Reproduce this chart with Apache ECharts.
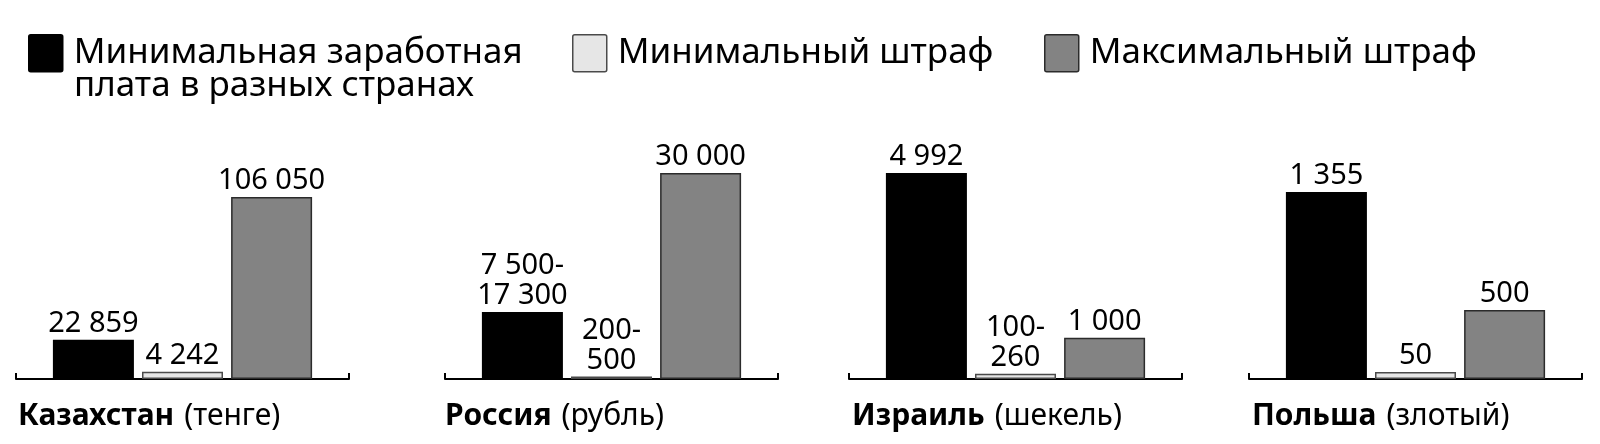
<!DOCTYPE html>
<html>
<head>
<meta charset="utf-8">
<script src="https://cdn.jsdelivr.net/npm/echarts@6/dist/echarts.min.js"></script>
<style>
  html, body { margin: 0; padding: 0; background: #fff; }
  #chart { width: 1600px; height: 444px; }
</style>
</head>
<body>
<div id="chart"></div>
<script>
// данные
var countries = ['Казахстан', 'Россия', 'Израиль', 'Польша'];
var currencies = ['(тенге)', '(рубль)', '(шекель)', '(злотый)'];

var minWage = [22859, 9750, 4992, 1355];
var minFine = [4242, 350, 130, 50];
var maxFine = [106050, 30000, 1000, 500];

var minWageLabels = ['22 859', '7 500-\n17 300', '4 992', '1 355'];
var minFineLabels = ['4 242', '200-\n500', '100-\n260', '50'];
var maxFineLabels = ['106 050', '30 000', '1 000', '500'];

var legendLines = ['Минимальная заработная', 'плата в разных странах'];
var seriesNames = [legendLines.join(' '), 'Минимальный штраф', 'Максимальный штраф'];

// у каждой страны своя шкала
var axisMax = [133400, 33350, 5550, 1660];

// раскладка
var panelLeft = [16, 445, 849, 1249];
var titleLeft = [18, 445, 852, 1252];
var FONT = '"Noto Sans", sans-serif';

var barStyles = [
  { color: '#000000', borderColor: '#000000', borderWidth: 1.5 },
  { color: '#e6e6e6', borderColor: '#4a4a4a', borderWidth: 1.5 },
  { color: '#838383', borderColor: '#2b2b2b', borderWidth: 1.5 }
];

var chart = echarts.init(document.getElementById('chart'));

var grids = [], xAxes = [], yAxes = [], titles = [], series = [];
countries.forEach(function (c, i) {
  grids.push({ left: panelLeft[i], width: 333, top: 150, bottom: 65 });
  xAxes.push({
    gridIndex: i,
    type: 'category',
    data: [c],
    axisLine: { lineStyle: { color: '#000', width: 2 } },
    axisTick: { show: true, inside: true, length: 6, lineStyle: { color: '#000', width: 2 } },
    axisLabel: { show: false }
  });
  yAxes.push({ gridIndex: i, type: 'value', min: 0, max: axisMax[i], show: false });
  titles.push({
    left: titleLeft[i],
    top: 401,
    padding: 0,
    text: '{b|' + c + '}  {n|' + currencies[i] + '}',
    textStyle: {
      rich: {
        b: { fontFamily: FONT, fontWeight: 'bold', fontSize: 30, color: '#000' },
        n: { fontFamily: FONT, fontWeight: 'normal', fontSize: 30, color: '#000' }
      }
    }
  });
  var vals = [minWage[i], minFine[i], maxFine[i]];
  var labs = [minWageLabels[i], minFineLabels[i], maxFineLabels[i]];
  vals.forEach(function (v, k) {
    series.push({
      name: seriesNames[k],
      type: 'bar',
      xAxisIndex: i,
      yAxisIndex: i,
      data: [v],
      barWidth: 81,
      barGap: '10%',
      itemStyle: barStyles[k],
      label: {
        show: true,
        position: 'top',
        distance: 1,
        color: '#000',
        fontFamily: FONT,
        fontSize: 29,
        lineHeight: 30,
        formatter: labs[k]
      }
    });
  });
});

function legendFor(k, left) {
  return {
    data: [seriesNames[k]],
    left: left,
    top: 34,
    padding: 0,
    itemWidth: 34,
    itemHeight: 37,
    icon: 'path://M2,0 L32,0 Q34,0 34,2 L34,35 Q34,37 32,37 L2,37 Q0,37 0,35 L0,2 Q0,0 2,0 Z',
    selectedMode: false,
    itemStyle: barStyles[k],
    formatter: function (name) { return k === 0 ? legendLines[0] : name; },
    textStyle: { fontFamily: FONT, fontSize: 35, color: '#000', padding: [0, 0, 0, 6] }
  };
}

chart.setOption({
  animation: false,
  backgroundColor: '#fff',
  title: titles,
  legend: [legendFor(0, 28), legendFor(1, 572), legendFor(2, 1044)],
  grid: grids,
  xAxis: xAxes,
  yAxis: yAxes,
  series: series,
  graphic: [{
    type: 'text',
    left: 74,
    top: 69,
    style: { text: legendLines[1], font: '35px ' + FONT, fill: '#000' }
  }]
});
</script>
</body>
</html>
